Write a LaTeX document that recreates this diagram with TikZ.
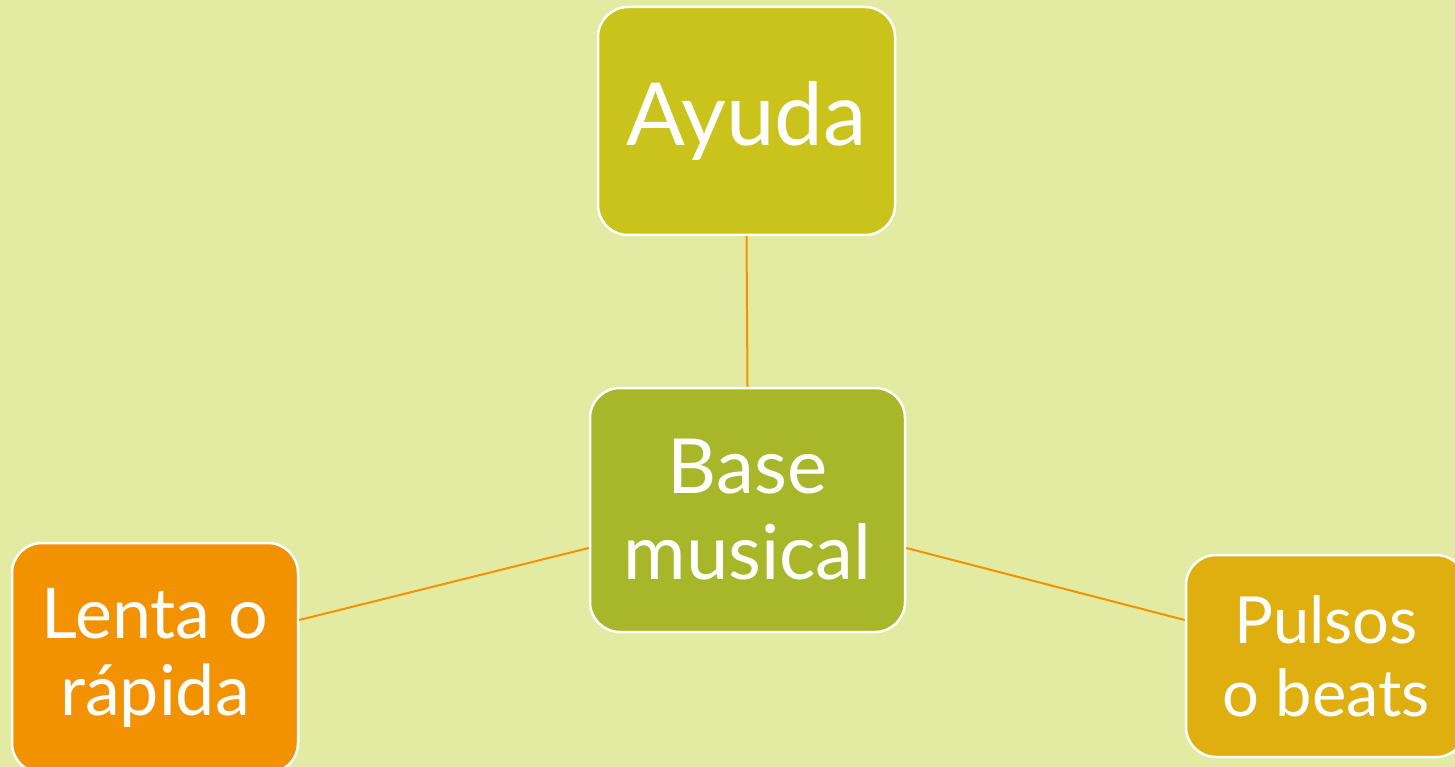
\documentclass[tikz,border=0pt]{standalone}
\usepackage{fontspec}
\setmainfont{Lato}
\definecolor{bgc}{HTML}{E2EBA1}
\definecolor{ayudac}{HTML}{CAC31C}
\definecolor{basec}{HTML}{A8B72A}
\definecolor{lentac}{HTML}{F39200}
\definecolor{pulsosc}{HTML}{DFAF10}
\definecolor{linec}{HTML}{F39200}
\tikzset{
  box/.style={draw=white, line width=2.5pt, rounded corners=30pt, inner sep=0pt,
    text=white, align=center},
  conn/.style={draw=linec, line width=2pt}
}
\begin{document}
\begin{tikzpicture}[x=1pt,y=-1pt]
\fill[bgc] (0,0) rectangle (1455,767);
\useasboundingbox (0,0) rectangle (1455,767);
\clip (0,0) rectangle (1455,767);
\node[box, fill=ayudac, minimum width=297pt, minimum height=228pt,
  font=\fontsize{87}{100}\selectfont] (ayuda) at (746.5,121) {Ayuda};
\node[box, fill=basec, minimum width=315pt, minimum height=244pt,
  font=\fontsize{76}{86}\selectfont] (base) at (747.5,510) {Base\\musical};
\node[box, fill=lentac, minimum width=286pt, minimum height=230pt,
  font=\fontsize{70}{77}\selectfont] (lenta) at (155,658) {Lenta o\\rápida};
\node[box, fill=pulsosc, minimum width=280pt, minimum height=202pt,
  font=\fontsize{65}{73}\selectfont] (pulsos) at (1326,656) {Pulsos\\o beats};
\draw[conn] (ayuda.south) -- (base.north);
\draw[conn] ([yshift=-38pt]base.west) -- ([yshift=38pt]lenta.east);
\draw[conn] ([yshift=-38pt]base.east) -- ([yshift=36pt]pulsos.west);
\end{tikzpicture}
\end{document}
